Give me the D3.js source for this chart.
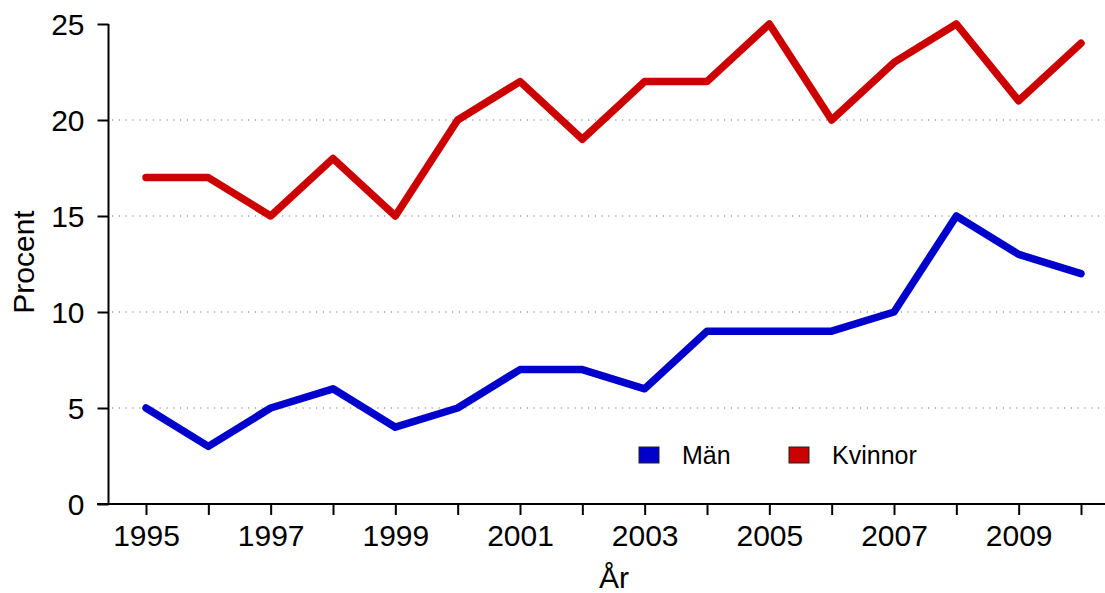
<!DOCTYPE html>
<html>
<head>
<meta charset="utf-8">
<script src="https://cdn.jsdelivr.net/npm/d3@7"></script>
<style>
  body { margin: 0; background: #fff; }
  text { font-family: "Liberation Sans", Arial, sans-serif; fill: #000; }
</style>
</head>
<body>
<svg id="chart" width="1105" height="593"></svg>
<script>
const years = [1995, 1996, 1997, 1998, 1999, 2000, 2001, 2002, 2003, 2004, 2005, 2006, 2007, 2008, 2009, 2010];
const man = [5, 3, 5, 6, 4, 5, 7, 7, 6, 9, 9, 9, 10, 15, 13, 12];
const kvinnor = [17, 17, 15, 18, 15, 20, 22, 19, 22, 22, 25, 20, 23, 25, 21, 24];
const yTicks = [0, 5, 10, 15, 20, 25];
const gridTicks = [5, 10, 15, 20];
const xLabels = [1995, 1997, 1999, 2001, 2003, 2005, 2007, 2009];

const series = [
  { name: "Män", values: man, color: "#0000cc" },
  { name: "Kvinnor", values: kvinnor, color: "#cc0000" }
];

const svg = d3.select("#chart");

const xScale = d3.scaleLinear().domain([1995, 2010]).range([146, 1081]);
const yScale = d3.scaleLinear().domain([0, 25]).range([504, 24]);

// gridlines
svg.append("g").selectAll("line")
  .data(gridTicks)
  .enter().append("line")
    .attr("x1", 112).attr("x2", 1105)
    .attr("y1", d => yScale(d)).attr("y2", d => yScale(d))
    .attr("stroke", "#777")
    .attr("stroke-width", 1.2)
    .attr("stroke-dasharray", "1.2,5.6");

// y axis
const yAxis = d3.axisLeft(yScale)
  .tickValues(yTicks)
  .tickSize(11)
  .tickPadding(13);

const yAxisG = svg.append("g")
  .attr("transform", "translate(108.5,0)")
  .call(yAxis);
yAxisG.select(".domain").remove();
yAxisG.append("line")
  .attr("x1", 0).attr("x2", 0)
  .attr("y1", yScale(25)).attr("y2", yScale(0))
  .attr("stroke", "#000").attr("stroke-width", 2);
yAxisG.selectAll(".tick line").attr("stroke-width", 2);
yAxisG.selectAll(".tick text")
  .style("font-size", "30px")
  .attr("dy", "0.36em");

// x axis
const xAxis = d3.axisBottom(xScale)
  .tickValues(years)
  .tickSize(11)
  .tickPadding(10)
  .tickFormat(d => xLabels.includes(d) ? d : "");

const xAxisG = svg.append("g")
  .attr("transform", "translate(0,504)")
  .call(xAxis);
xAxisG.select(".domain").remove();
xAxisG.append("line")
  .attr("x1", 97).attr("x2", 1105)
  .attr("y1", 0).attr("y2", 0)
  .attr("stroke", "#000").attr("stroke-width", 2);
xAxisG.selectAll(".tick line").attr("stroke-width", 2);
xAxisG.selectAll(".tick text")
  .style("font-size", "30px");

// axis labels
svg.append("text")
  .attr("transform", "translate(34,262) rotate(-90)")
  .attr("text-anchor", "middle")
  .style("font-size", "30px")
  .text("Procent");

svg.append("text")
  .attr("x", 614)
  .attr("y", 588)
  .attr("text-anchor", "middle")
  .style("font-size", "30px")
  .text("År");

// lines
const line = d3.line()
  .x((d, i) => xScale(years[i]))
  .y(d => yScale(d));

svg.append("g").selectAll("path")
  .data(series)
  .enter().append("path")
    .attr("d", d => line(d.values))
    .attr("fill", "none")
    .attr("stroke", d => d.color)
    .attr("stroke-width", 7.5)
    .attr("stroke-linecap", "round")
    .attr("stroke-linejoin", "round");

// legend
const legend = svg.append("g").selectAll("g")
  .data(series)
  .enter().append("g")
    .attr("transform", (d, i) => `translate(${639 + i * 150},447)`);

legend.append("rect")
  .attr("width", 20).attr("height", 16)
  .attr("fill", d => d.color)
  .attr("stroke", "#222")
  .attr("stroke-width", 1);

legend.append("text")
  .attr("x", 43)
  .attr("y", 17)
  .style("font-size", "25px")
  .text(d => d.name);
</script>
</body>
</html>
